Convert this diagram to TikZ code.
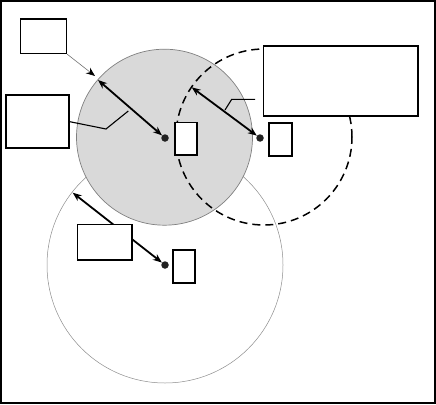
\documentclass[tikz,border=0pt]{standalone}
\usetikzlibrary{arrows.meta}
\begin{document}
\begin{tikzpicture}[x=1pt,y=-1pt,
  box/.style={draw=black,line width=1.5pt,fill=white,inner sep=0pt,anchor=north west},
  dot/.style={circle,fill=black!87,inner sep=0pt,minimum size=7.5pt},
  radius arrow/.style={line width=1.8pt,{Stealth[length=9pt,width=7pt]}-{Stealth[length=9pt,width=7pt]}},
  leader/.style={line width=1.1pt},
  ring/.style={circle,inner sep=0pt}]
\useasboundingbox (0,0) rectangle (436,404);
\draw[line width=2pt] (1,1) rectangle (435,403);
% circles
\node[ring,draw=black!45,line width=0.5pt,minimum size=236pt] (c3) at (165,265) {};
\node[ring,draw=black!50,fill=black!15,line width=0.7pt,minimum size=176pt] (c1) at (164.5,137.2) {};
\node[ring,draw=black,line width=1.5pt,dash pattern=on 8pt off 5pt,minimum size=176pt] (c2) at (264,137) {};
% centers
\coordinate (p1) at (165,138);
\coordinate (p2) at (260,138);
\coordinate (p3) at (165,265);
\coordinate (e1) at (98,80);
\coordinate (e2) at (191.7,87.3);
\coordinate (e3) at (72.7,192.7);
% radius arrows
\draw[radius arrow,shorten >=4pt] (e1) -- (p1);
\draw[radius arrow,shorten >=4pt] (e2) -- (p2);
\draw[radius arrow,shorten >=4pt] (e3) -- (p3);
% boxes
\node[box,minimum width=46pt,minimum height=34.4pt] (A) at (19.7,18.3) {};
\node[box,minimum width=63pt,minimum height=53pt] (B) at (5.3,94) {};
\node[box,minimum width=22pt,minimum height=32.6pt] (C) at (174.3,121.7) {};
\node[box,minimum width=154.6pt,minimum height=70pt] (D) at (262.7,45.3) {};
\node[box,minimum width=22.7pt,minimum height=33pt] (E) at (268.3,122.3) {};
\node[box,minimum width=54.3pt,minimum height=35.3pt] (F) at (76.7,223.7) {};
\node[box,minimum width=22.3pt,minimum height=32.7pt] (G) at (172,249.3) {};
% leaders
\coordinate (a1) at (95,76);
\draw[draw=black!55,line width=0.6pt,-{Stealth[length=9pt,width=7pt,color=black]}] (A.south east) -- (a1);
\coordinate (b1) at (106,129);
\coordinate (b2) at (128.3,111);
\draw[leader] (B.east |- 0,121.7) -- (b1) -- (b2);
\coordinate (d0) at (255,99.3);
\coordinate (d1) at (231.7,99.3);
\coordinate (d2) at (225,110);
\draw[leader] (d0) -- (d1) -- (d2);
% dots
\node[dot] (q1) at (p1) {};
\node[dot] (q2) at (p2) {};
\node[dot] (q3) at (p3) {};
\end{tikzpicture}
\end{document}
